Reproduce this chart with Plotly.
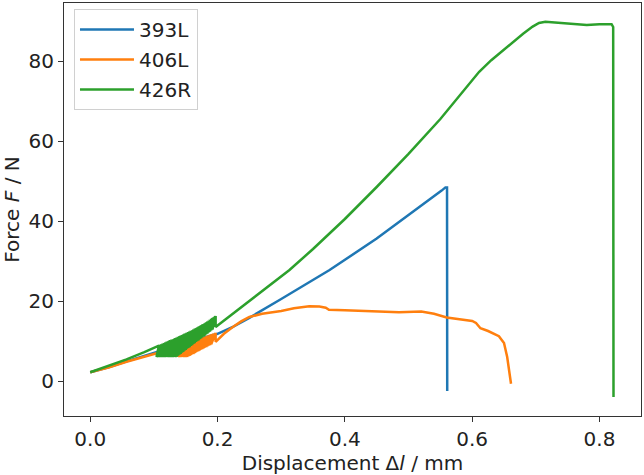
import plotly.graph_objects as go

# --- data (displacement in mm, force in N) ---
# 393L
blue_x = [0.0, 0.03, 0.057, 0.085, 0.11, 0.15, 0.20, 0.224, 0.25, 0.30, 0.376,
          0.45, 0.50, 0.54, 0.552, 0.558, 0.5605, 0.5608]
blue_F = [2.2, 3.5, 4.9, 6.2, 7.5, 9.5, 11.8, 13.5, 15.8, 20.5, 27.75,
          35.6, 41.4, 46.0, 47.6, 48.4, 48.4, -2.5]

# 406L: loading before cycles, cycle peaks / valleys, loading after cycles
orange_pre_x = [0.0, 0.03, 0.057, 0.085, 0.11, 0.14]
orange_pre_F = [2.2, 3.4, 4.8, 6.0, 7.2, 8.7]
orange_peak_x = [0.142, 0.144, 0.146, 0.148, 0.150, 0.152, 0.154, 0.156, 0.158, 0.160,
                 0.162, 0.164, 0.166, 0.168, 0.170, 0.172, 0.174, 0.176, 0.178, 0.180,
                 0.182, 0.184, 0.186, 0.188, 0.190, 0.192, 0.194, 0.197]
orange_peak_F = [8.8, 8.9, 9.05, 9.15, 9.3, 9.4, 9.5, 9.6, 9.75, 9.85,
                 9.95, 10.1, 10.2, 10.3, 10.45, 10.55, 10.65, 10.8, 10.9, 11.0,
                 11.15, 11.25, 11.35, 11.5, 11.6, 11.7, 11.85, 12.0]
orange_valley_x = [0.138, 0.140, 0.142, 0.144, 0.146, 0.148, 0.150, 0.152, 0.154, 0.156,
                   0.158, 0.160, 0.162, 0.164, 0.166, 0.168, 0.170, 0.172, 0.174, 0.176,
                   0.178, 0.180, 0.182, 0.184, 0.186, 0.188, 0.190, 0.197]
orange_valley_F = [6.0, 6.0, 6.0, 6.0, 6.0, 6.0, 6.0, 6.0, 6.2, 6.3,
                   6.5, 6.7, 6.8, 7.0, 7.2, 7.4, 7.5, 7.7, 7.9, 8.0,
                   8.2, 8.4, 8.5, 8.7, 8.9, 9.0, 9.2, 9.8]
orange_post_x = [0.21, 0.224, 0.237, 0.25, 0.27, 0.30, 0.32, 0.344, 0.36, 0.37, 0.375,
                 0.40, 0.45, 0.485, 0.52, 0.54, 0.56, 0.58, 0.60, 0.606, 0.613, 0.625,
                 0.642, 0.650, 0.655, 0.661]
orange_post_F = [11.8, 13.5, 14.9, 16.0, 16.8, 17.5, 18.2, 18.7, 18.6, 18.3, 17.8,
                 17.7, 17.4, 17.2, 17.4, 16.8, 15.9, 15.5, 15.0, 14.5, 13.2, 12.5,
                 11.2, 9.5, 6.0, -0.7]

# 426R: loading before cycles, cycle peaks / valleys, loading after cycles
green_pre_x = [0.0, 0.03, 0.057, 0.085, 0.106]
green_pre_F = [2.2, 3.8, 5.4, 7.2, 8.7]
green_peak_x = [0.108, 0.110, 0.112, 0.114, 0.116, 0.118, 0.120, 0.122, 0.124, 0.126,
                0.128, 0.130, 0.132, 0.134, 0.136, 0.138, 0.140, 0.142, 0.144, 0.146,
                0.148, 0.150, 0.152, 0.154, 0.156, 0.158, 0.160, 0.162, 0.164, 0.166,
                0.168, 0.170, 0.172, 0.174, 0.176, 0.178, 0.180, 0.182, 0.184, 0.186,
                0.188, 0.190, 0.192, 0.194, 0.196, 0.197]
green_peak_F = [8.85, 9.0, 9.15, 9.3, 9.45, 9.6, 9.75, 9.9, 10.05, 10.2,
                10.3, 10.4, 10.55, 10.7, 10.85, 11.0, 11.15, 11.3, 11.45, 11.6,
                11.75, 11.9, 12.05, 12.2, 12.35, 12.5, 12.65, 12.8, 13.0, 13.2,
                13.35, 13.5, 13.7, 13.9, 14.05, 14.2, 14.4, 14.6, 14.8, 15.0,
                15.25, 15.5, 15.7, 15.9, 16.1, 16.25]
green_valley_x = [0.104, 0.106, 0.108, 0.110, 0.112, 0.114, 0.116, 0.118, 0.120, 0.122,
                  0.124, 0.126, 0.128, 0.130, 0.132, 0.134, 0.136, 0.138, 0.140, 0.142,
                  0.144, 0.146, 0.148, 0.150, 0.152, 0.154, 0.156, 0.158, 0.160, 0.162,
                  0.164, 0.166, 0.168, 0.170, 0.172, 0.174, 0.176, 0.178, 0.180, 0.182,
                  0.184, 0.186, 0.188, 0.190, 0.192, 0.197]
green_valley_F = [6.0, 6.0, 6.0, 6.0, 6.0, 6.0, 6.0, 6.0, 6.0, 6.0,
                  6.0, 6.0, 6.0, 6.0, 6.0, 6.0, 6.1, 6.4, 6.6, 6.8,
                  7.1, 7.3, 7.6, 7.8, 8.1, 8.3, 8.5, 8.8, 9.0, 9.3,
                  9.5, 9.8, 10.0, 10.2, 10.5, 10.7, 11.0, 11.2, 11.4, 11.7,
                  11.9, 12.2, 12.4, 12.7, 12.9, 13.5]
green_post_x = [0.22, 0.25, 0.28, 0.313, 0.35, 0.40, 0.45, 0.50, 0.55, 0.58, 0.60,
                0.611, 0.63, 0.662, 0.68, 0.695, 0.705, 0.715, 0.73, 0.75,
                0.78, 0.80, 0.815, 0.819, 0.8215, 0.822]
green_post_F = [16.3, 20.0, 23.8, 27.75, 33.0, 40.5, 48.5, 56.8, 65.5, 71.2, 75.2,
                77.3, 80.2, 84.5, 86.8, 88.6, 89.5, 89.8, 89.6, 89.3,
                89.0, 89.2, 89.1, 89.2, 88.5, -4.0]

series_names = ["393L", "406L", "426R"]
series_colors = ["#1f77b4", "#ff7f0e", "#2ca02c"]

x_ticks = [0.0, 0.2, 0.4, 0.6, 0.8]
y_ticks = [0, 20, 40, 60, 80]


def assemble(pre_x, pre_F, pk_x, pk_F, vl_x, vl_F, post_x, post_F):
    xs, ys = list(pre_x), list(pre_F)
    for a, b, c, d in zip(pk_x, pk_F, vl_x, vl_F):
        xs += [a, c]
        ys += [b, d]
    return xs + list(post_x), ys + list(post_F)


orange_x, orange_F = assemble(orange_pre_x, orange_pre_F, orange_peak_x, orange_peak_F,
                              orange_valley_x, orange_valley_F, orange_post_x, orange_post_F)
green_x, green_F = assemble(green_pre_x, green_pre_F, green_peak_x, green_peak_F,
                            green_valley_x, green_valley_F, green_post_x, green_post_F)

FONT = "DejaVu Sans"
FS = 20

fig = go.Figure()
for (xs, ys), name, col in zip([(blue_x, blue_F), (orange_x, orange_F), (green_x, green_F)],
                               series_names, series_colors):
    fig.add_trace(go.Scatter(x=xs, y=ys, mode="lines", name=name, legendgroup=name,
                             line=dict(color=col, width=2.5)))

axis_common = dict(showline=True, linecolor="#333333", linewidth=1, mirror=True,
                   ticks="outside", ticklen=5, tickcolor="#333333", tickwidth=1,
                   showgrid=False, zeroline=False, automargin=False,
                   tickfont=dict(family=FONT, size=FS, color="#222222"))

fig.update_layout(
    width=644, height=475,
    margin=dict(l=64, r=3, t=3, b=59),
    paper_bgcolor="white", plot_bgcolor="white",
    font=dict(family=FONT, size=FS, color="#222222"),
    xaxis=dict(range=[-0.0412, 0.8652], tickvals=x_ticks, tickformat=".1f",
               title=dict(text="Displacement Δ<i>l</i> / mm", standoff=0,
                          font=dict(family=FONT, size=FS)),
               **axis_common),
    yaxis=dict(range=[-8.75, 94.5], tickvals=y_ticks,
               title=dict(text="Force <i>F</i> / N", standoff=3,
                          font=dict(family=FONT, size=FS)),
               **axis_common),
    legend=dict(x=0.0173, y=0.9857, xanchor="left", yanchor="top",
                bgcolor="rgba(255,255,255,0.8)", bordercolor="#d0d0d0", borderwidth=1,
                font=dict(family=FONT, size=FS), itemwidth=54,
                tracegroupgap=1),
    showlegend=True,
)

fig.write_html("out.html", config={"displayModeBar": False},
               post_script="document.body.style.margin='0';")
